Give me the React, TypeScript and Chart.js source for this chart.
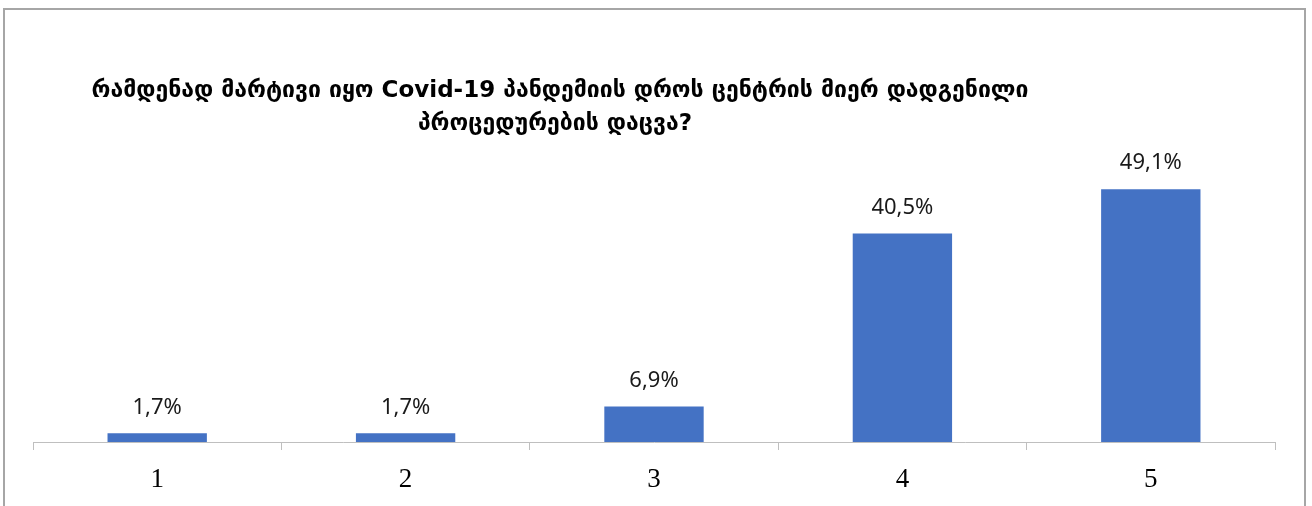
import React, { useEffect, useRef } from "react";
import { Chart, registerables } from "chart.js";

Chart.register(...registerables);

const categories = ["1", "2", "3", "4", "5"];
const values = [1.7, 1.7, 6.9, 40.5, 49.1];
const titleLines = [
  "რამდენად მარტივი იყო Covid-19 პანდემიის დროს ცენტრის მიერ დადგენილი",
  "პროცედურების დაცვა?",
];

const fmt = (v: number) => v.toFixed(1).replace(".", ",") + "%";

const framePlugin = {
  id: "frameAndTitle",
  beforeDraw(chart: any) {
    const ctx = chart.ctx;
    ctx.save();
    ctx.fillStyle = "#ffffff";
    ctx.fillRect(0, 0, chart.width, chart.height);
    ctx.strokeStyle = "#a6a6a6";
    ctx.lineWidth = 2;
    ctx.strokeRect(4, 9, 1301, 600);
    ctx.restore();
  },
  afterDraw(chart: any) {
    const ctx = chart.ctx;
    ctx.save();
    ctx.fillStyle = "#000000";
    ctx.font = "bold 23px 'DejaVu Sans', 'Noto Sans', sans-serif";
    ctx.textAlign = "center";
    ctx.textBaseline = "alphabetic";
    ctx.fillText(titleLines[0], 560, 97);
    ctx.fillText(titleLines[1], 555, 130);
    ctx.restore();
  },
};

const labelPlugin = {
  id: "barLabels",
  afterDatasetsDraw(chart: any) {
    const ctx = chart.ctx;
    const meta = chart.getDatasetMeta(0);
    ctx.save();
    ctx.fillStyle = "#1a1a1a";
    ctx.font = "22px 'Noto Sans', sans-serif";
    ctx.textAlign = "center";
    ctx.textBaseline = "middle";
    meta.data.forEach((el: any, i: number) => {
      ctx.fillText(fmt(values[i]), el.x, el.y - 26);
    });
    ctx.restore();
  },
};

export default function App() {
  const ref = useRef<HTMLCanvasElement | null>(null);
  useEffect(() => {
    document.body.style.margin = "0";
    const chart = new Chart(ref.current as HTMLCanvasElement, {
      type: "bar",
      data: {
        labels: categories,
        datasets: [
          {
            data: values,
            backgroundColor: "#4472C4",
            barPercentage: 0.4,
            categoryPercentage: 1.0,
          },
        ],
      },
      options: {
        animation: false,
        responsive: false,
        maintainAspectRatio: false,
        layout: { padding: { top: 133, left: 33, right: 37, bottom: 14 } },
        plugins: {
          legend: { display: false },
          title: { display: false },
          tooltip: { enabled: false },
        },
        scales: {
          x: {
            afterFit: (scale: any) => {
              scale.height = 50;
            },
            grid: {
              display: true,
              drawOnChartArea: false,
              drawTicks: true,
              tickLength: 8,
              color: "#bfbfbf",
              offset: true,
            },
            border: { display: true, color: "#bfbfbf", width: 1 },
            ticks: {
              color: "#000000",
              padding: 14,
              font: { family: "'Liberation Serif', 'DejaVu Serif', serif", size: 27 },
            },
          },
          y: {
            display: false,
            min: 0,
            max: 60,
          },
        },
      },
      plugins: [framePlugin, labelPlugin],
    });
    return () => chart.destroy();
  }, []);
  return (
    <div style={{ width: 1312, height: 506 }}>
      <canvas ref={ref} width={1312} height={506} style={{ display: "block" }} />
    </div>
  );
}
